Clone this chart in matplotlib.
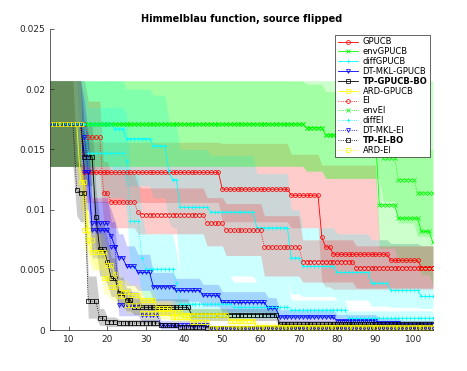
import numpy as np
import matplotlib
matplotlib.use("Agg")
import matplotlib.pyplot as plt

# evaluation index shown on the x axis
x = np.arange(5, 106)

# each series: (first x of the step, mean, band low, band high)
gpucb = [(5, .0171, .0136, .0207), (14, .0131, .0106, .0156), (50, .0117, .0090, .0155),
         (68, .0112, .0085, .0146), (76, .0077, .0040, .0137), (77, .0069, .0036, .0137),
         (79, .0063, .0034, .0137), (91, .0063, .0034, .0075), (94, .0058, .0034, .0072),
         (102, .0052, .0034, .0070)]
env_gpucb = [(5, .0171, .0136, .0207), (72, .0168, .0132, .0207), (77, .0162, .0126, .0207),
             (91, .0104, .0068, .0207), (96, .0093, .0057, .0207), (102, .0082, .0046, .0207),
             (105, .0073, .0037, .0207)]
diff_gpucb = [(5, .0171, .0136, .0207), (22, .0167, .0130, .0207), (25, .0159, .0120, .0200),
              (32, .0153, .0110, .0195), (36, .0132, .0090, .0175), (37, .0125, .0085, .0170),
              (39, .0102, .0045, .0150), (47, .0098, .0045, .0145), (59, .0085, .0040, .0130),
              (68, .0060, .0030, .0100), (71, .0053, .0028, .0085), (80, .0048, .0025, .0080),
              (89, .0039, .0020, .0075), (94, .0033, .0019, .0072), (102, .0028, .0018, .0070)]
dtmkl_gpucb = [(5, .0171, .0136, .0207), (14, .0131, .0100, .0165), (16, .0083, .0060, .0107),
               (21, .0078, .0055, .0100), (22, .0069, .0048, .0090), (23, .0060, .0042, .0080),
               (25, .0053, .0037, .0070), (28, .0048, .0033, .0063), (32, .0036, .0025, .0048),
               (38, .0033, .0024, .0043), (45, .0029, .0020, .0038), (50, .0023, .0015, .0032),
               (62, .0018, .0011, .0027), (65, .0011, .0006, .0017), (80, .0008, .0004, .0013),
               (91, .0006, .0003, .0010), (97, .0004, .0002, .0008)]
tp_gpucb = [(5, .0171, .0136, .0207), (14, .0144, .0120, .0170), (17, .0094, .0070, .0118),
            (18, .0067, .0045, .0090), (20, .0057, .0038, .0077), (21, .0043, .0028, .0060),
            (23, .0031, .0020, .0044), (25, .0025, .0016, .0035), (27, .0019, .0013, .0026),
            (42, .0013, .0008, .0018), (65, .0005, .0002, .0008)]
ard_gpucb = [(5, .0171, .0136, .0207), (13, .0123, .0100, .0145), (15, .0075, .0058, .0092),
             (16, .0065, .0050, .0080), (20, .0054, .0040, .0068), (22, .0047, .0034, .0060),
             (23, .0039, .0028, .0050), (24, .0032, .0023, .0042), (26, .0029, .0021, .0038),
             (29, .0025, .0018, .0033), (33, .0018, .0012, .0024), (37, .0015, .0010, .0020),
             (40, .0013, .0008, .0018), (52, .0008, .0004, .0012), (59, .0003, .0001, .0006)]
ei = [(5, .0171, .0136, .0207), (15, .0160, .0130, .0190), (19, .0114, .0090, .0140),
      (21, .0106, .0085, .0130), (28, .0098, .0080, .0120), (29, .0096, .0080, .0118),
      (46, .0089, .0070, .0110), (51, .0083, .0062, .0105), (61, .0069, .0045, .0095),
      (71, .0057, .0040, .0075), (85, .0052, .0035, .0070)]
env_ei = [(5, .0171, .0136, .0207), (72, .0168, .0132, .0204), (77, .0162, .0126, .0198),
          (92, .0143, .0107, .0179), (96, .0125, .0089, .0161), (101, .0114, .0078, .0150)]
diff_ei = [(5, .0171, .0136, .0207), (15, .0147, .0110, .0185), (25, .0140, .0100, .0180),
           (26, .0091, .0050, .0130), (29, .0060, .0030, .0095), (30, .0051, .0025, .0080),
           (38, .0039, .0015, .0065), (39, .0022, .0010, .0045), (53, .0019, .0010, .0040),
           (68, .0017, .0010, .0025), (83, .0010, .0006, .0016)]
dtmkl_ei = [(5, .0171, .0136, .0207), (14, .0160, .0130, .0190), (15, .0131, .0100, .0160),
            (16, .0089, .0065, .0110), (21, .0069, .0045, .0090), (23, .0021, .0012, .0032),
            (29, .0013, .0007, .0020), (34, .0004, .0001, .0008), (47, .0002, .0000, .0004)]
tp_ei = [(5, .0171, .0136, .0207), (12, .0116, .0095, .0140), (13, .0114, .0090, .0138),
         (15, .0024, .0010, .0045), (18, .0010, .0004, .0018), (20, .0007, .0003, .0011),
         (23, .0006, .0003, .0009), (34, .0004, .0002, .0006), (39, .0003, .0001, .0004),
         (46, .0002, .0000, .0003)]
ard_ei = [(5, .0171, .0136, .0207), (14, .0083, .0065, .0100), (16, .0075, .0058, .0092),
          (17, .0065, .0050, .0080), (19, .0043, .0030, .0056), (21, .0036, .0025, .0047),
          (23, .0028, .0020, .0037), (25, .0021, .0014, .0028), (29, .0014, .0009, .0019),
          (37, .0011, .0007, .0015), (42, .0007, .0004, .0010), (47, .0002, .0000, .0004)]

names = ["GPUCB", "envGPUCB", "diffGPUCB", "DT-MKL-GPUCB", "TP-GPUCB-BO", "ARD-GPUCB",
         "EI", "envEI", "diffEI", "DT-MKL-EI", "TP-EI-BO", "ARD-EI"]
series = [gpucb, env_gpucb, diff_gpucb, dtmkl_gpucb, tp_gpucb, ard_gpucb,
          ei, env_ei, diff_ei, dtmkl_ei, tp_ei, ard_ei]
colors = ["#ff0000", "#00ff00", "#00ffff", "#0000ff", "#000000", "#ffff00"] * 2
markers = ["o", "x", "+", "v", "s", "s"] * 2
styles = ["-"] * 6 + [":"] * 6


def expand(steps):
    starts = np.array([s[0] for s in steps])
    idx = np.searchsorted(starts, x, side="right") - 1
    cols = np.array([s[1:] for s in steps])
    return cols[idx, 0], cols[idx, 1], cols[idx, 2]


fig = plt.figure(figsize=(4.67, 3.71), dpi=100)
ax = fig.add_axes([0.107, 0.11, 0.82, 0.812])

for name, steps, c, m, ls in zip(names, series, colors, markers, styles):
    mean, lo, hi = expand(steps)
    ax.fill_between(x, lo, hi, color=c, alpha=0.2, linewidth=0)
    ax.plot(x, mean, color=c, linestyle=ls, linewidth=0.6,
            marker=m, markersize=2.8, markerfacecolor="none",
            markeredgewidth=0.55, label=name)

ax.set_xlim(5, 105)
ax.set_ylim(0, 0.025)
ax.set_xticks(range(10, 101, 10))
ax.set_yticks([0, 0.005, 0.01, 0.015, 0.02, 0.025])
ax.set_yticklabels(["0", "0.005", "0.01", "0.015", "0.02", "0.025"])
ax.tick_params(direction="in", length=3, width=0.5, labelsize=6.5,
               colors="#262626")
for side in ["top", "right"]:
    ax.spines[side].set_visible(False)
for side in ["left", "bottom"]:
    ax.spines[side].set_color("#262626")
    ax.spines[side].set_linewidth(0.5)

ax.set_title("Himmelblau function, source flipped", fontsize=7, fontweight="bold", pad=5)

leg = ax.legend(loc="upper right", bbox_to_anchor=(0.992, 0.98), borderaxespad=0,
                fontsize=6, labelspacing=0.1, handlelength=2.4, handletextpad=0.6,
                borderpad=0.3, fancybox=False, framealpha=1, edgecolor="#262626")
leg.get_frame().set_linewidth(0.5)
for t in leg.get_texts():
    if t.get_text().startswith("TP"):
        t.set_fontweight("bold")

fig.savefig("out.png", dpi=100)
